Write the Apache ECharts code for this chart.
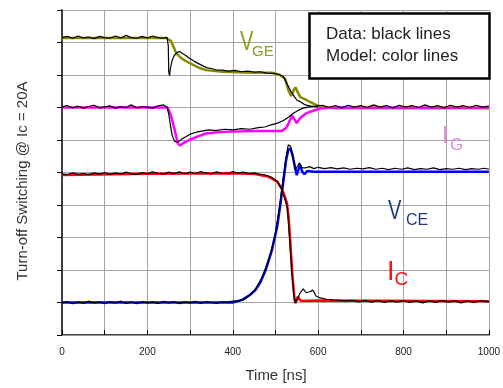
<!DOCTYPE html>
<html>
<head>
<meta charset="utf-8">
<script src="https://cdn.jsdelivr.net/npm/echarts@6/dist/echarts.min.js"></script>
<style>
  html, body { margin: 0; padding: 0; background: #fff; }
  #chart { width: 503px; height: 388px; }
</style>
</head>
<body>
<div id="chart"></div>
<script>
// time in ns, traces in grid units (0..10, one unit per grid row)
const xTicks = [0, 200, 400, 600, 800, 1000];

const vgeModel = [[0,9.14],[244,9.14],[255,9.05],[262,8.85],[267,8.68],[280,8.51],[298,8.37],[320,8.23],[337,8.15],[376,8.1],[430,8.08],[492,8.07],[510,8.0],[523,7.88],[530,7.54],[537,7.35],[543,7.54],[547,7.62],[552,7.48],[558,7.32],[570,7.25],[581,7.17],[595,7.08],[610,7.02],[640,6.98],[1000,6.98]];

const igModel = [[0,7.0],[248,7.0],[256,6.72],[264,6.31],[271,5.91],[276,5.83],[285,5.91],[298,6.0],[320,6.12],[337,6.2],[376,6.25],[453,6.28],[515,6.28],[525,6.37],[531,6.52],[539,6.75],[543,6.77],[550,6.52],[558,6.68],[570,6.8],[581,6.87],[605,6.97],[630,7.0],[1000,7.0]];

const vceModel = [[0,1.0],[400,1.0],[422,1.08],[440,1.23],[453,1.38],[465,1.63],[477,2.0],[492,2.62],[504,3.33],[512,4.06],[519,4.77],[525,5.38],[530,5.69],[535,5.74],[540,5.54],[547,5.08],[550,4.92],[555,5.14],[558,5.23],[563,5.02],[568,4.95],[575,5.05],[590,5.02],[1000,5.02]];

const icModel = [[0,4.92],[200,4.96],[400,4.98],[453,4.95],[484,4.87],[504,4.72],[515,4.5],[522,4.25],[527,4.06],[531,3.6],[535,2.83],[540,1.79],[545,1.08],[547,0.98],[550,1.1],[553,1.18],[557,1.08],[562,1.05],[600,1.06],[1000,1.04]];

const vgeData = [[0,9.15],[12,9.19],[25,9.13],[38,9.2],[50,9.14],[62,9.17],[75,9.12],[88,9.19],[100,9.15],[112,9.13],[125,9.2],[138,9.14],[150,9.22],[162,9.15],[175,9.13],[188,9.19],[200,9.14],[212,9.2],[225,9.15],[238,9.13],[246,9.16],[249,8.9],[250,8.1],[252,7.98],[254,8.2],[258,8.45],[263,8.6],[270,8.7],[276,8.72],[282,8.66],[290,8.6],[300,8.5],[310,8.42],[320,8.35],[330,8.28],[340,8.22],[350,8.2],[360,8.16],[375,8.15],[390,8.12],[405,8.14],[420,8.1],[435,8.12],[450,8.09],[465,8.1],[480,8.06],[495,8.05],[505,8.03],[512,8.0],[519,7.95],[525,7.78],[531,7.63],[536,7.5],[542,7.38],[550,7.23],[558,7.18],[570,7.08],[580,7.05],[590,7.03],[600,7.02]];

const igData = [[0,7.02],[12,7.06],[25,6.99],[38,7.04],[50,6.98],[62,7.03],[75,7.07],[88,6.99],[100,7.02],[112,7.05],[125,6.98],[138,7.03],[150,7.0],[162,7.08],[175,6.99],[188,7.03],[200,7.01],[212,6.98],[225,7.05],[238,7.08],[246,7.01],[250,6.8],[254,6.45],[258,6.15],[263,5.98],[268,5.93],[273,5.95],[280,6.02],[290,6.1],[300,6.18],[315,6.24],[330,6.28],[345,6.31],[360,6.29],[380,6.33],[400,6.31],[420,6.35],[440,6.33],[460,6.38],[475,6.4],[488,6.46],[505,6.52],[519,6.6],[530,6.7],[542,6.82],[555,6.92],[565,6.98],[580,7.02],[595,7.04],[610,7.07],[625,7.0],[640,7.06],[655,6.99],[670,7.07],[685,7.01],[700,7.06],[715,7.0],[730,7.08],[745,7.01],[760,7.06],[775,6.99],[790,7.07],[805,7.01],[820,7.06],[835,7.0],[850,7.08],[865,7.01],[880,7.06],[895,6.99],[910,7.07],[925,7.01],[940,7.06],[955,7.0],[970,7.07],[985,7.01],[1000,7.04]];

const vceData = [[0,0.99],[12,1.03],[25,0.96],[38,1.02],[50,0.98],[62,1.04],[75,0.99],[88,1.02],[100,0.96],[112,1.03],[125,0.99],[138,1.04],[150,0.97],[162,1.02],[175,0.96],[188,1.03],[200,0.99],[212,1.02],[225,0.97],[238,1.04],[250,0.99],[262,1.03],[275,0.96],[288,1.02],[300,0.99],[312,1.04],[325,0.97],[338,1.03],[350,1.0],[362,0.97],[375,1.03],[388,1.01],[400,1.04],[412,1.04],[425,1.08],[440,1.22],[455,1.45],[470,1.8],[485,2.35],[498,3.0],[508,3.8],[516,4.6],[524,5.4],[530,5.85],[536,5.8],[542,5.4],[547,5.1],[552,5.2],[556,5.3],[562,5.15],[570,5.14],[580,5.18],[590,5.12],[600,5.16],[615,5.12],[630,5.15],[645,5.11],[660,5.14],[675,5.1],[690,5.13],[705,5.11],[720,5.15],[735,5.1],[750,5.13],[765,5.09],[780,5.13],[795,5.1],[810,5.14],[825,5.09],[840,5.12],[855,5.1],[870,5.14],[885,5.09],[900,5.12],[915,5.1],[930,5.13],[945,5.09],[960,5.12],[975,5.1],[990,5.13],[1000,5.1]];

const icData = [[0,4.96],[12,4.93],[25,4.99],[38,4.94],[50,4.97],[62,4.93],[75,4.99],[88,4.95],[100,5.0],[112,4.94],[125,4.99],[138,4.95],[150,5.01],[162,4.96],[175,4.94],[188,5.0],[200,4.96],[212,5.02],[225,4.97],[238,4.95],[250,5.01],[262,4.97],[275,5.02],[288,4.96],[300,5.01],[312,4.97],[325,5.03],[338,4.98],[350,4.96],[362,5.02],[375,4.98],[388,4.97],[400,5.03],[412,4.98],[425,5.01],[438,4.97],[450,4.99],[462,4.95],[475,4.93],[490,4.86],[505,4.72],[515,4.48],[522,4.2],[528,3.9],[533,3.0],[538,2.0],[543,1.2],[547,1.0],[552,1.12],[558,1.3],[565,1.42],[572,1.3],[580,1.33],[588,1.38],[595,1.2],[605,1.14],[620,1.1],[635,1.08],[650,1.07],[665,1.04],[680,1.07],[695,1.02],[710,1.06],[725,1.01],[740,1.06],[755,1.0],[770,1.05],[785,1.01],[800,1.06],[815,1.0],[830,1.05],[845,0.99],[860,1.05],[875,1.0],[890,1.06],[905,1.01],[920,1.05],[935,0.99],[950,1.05],[965,1.0],[980,1.06],[1000,1.02]];

const font = '"Liberation Sans", Arial, sans-serif';

const chart = echarts.init(document.getElementById('chart'));

const line = (data, color, width) => ({
    type: 'line',
    data: data,
    showSymbol: false,
    symbol: 'none',
    silent: true,
    lineStyle: { color: color, width: width },
    z: width > 1.5 ? 2 : 3
});

const label = (text, x, y, size, color, sx) => ({
    type: 'text',
    x: x,
    y: y,
    scaleX: sx || 1,
    z: 10,
    style: { text: text, font: size + 'px ' + font, fill: color, align: 'left', verticalAlign: 'middle' }
});

const options = {
    animation: false,
    backgroundColor: '#fff',
    grid: { left: 62, right: 13, top: 10, bottom: 53 },
    xAxis: [{
        type: 'value',
        min: 0,
        max: 1000,
        interval: 100,
        axisLine: { lineStyle: { color: '#000', width: 1.5 } },
        axisTick: { inside: true, length: 5, lineStyle: { color: '#000' } },
        axisLabel: {
            fontFamily: font,
            fontSize: 10,
            color: '#222',
            margin: 12,
            formatter: (v) => xTicks.indexOf(v) >= 0 ? String(v) : ''
        },
        splitLine: { lineStyle: { color: '#a4a4a4', width: 1 } }
    }, {
        type: 'value',
        position: 'top',
        min: 0,
        max: 1000,
        axisLine: { lineStyle: { color: '#999', width: 1 } },
        axisTick: { show: false },
        axisLabel: { show: false },
        splitLine: { show: false }
    }],
    yAxis: [{
        type: 'value',
        min: 0,
        max: 10,
        interval: 1,
        axisLine: { show: true, lineStyle: { color: '#000', width: 1.5 } },
        axisTick: { show: true, length: 5, lineStyle: { color: '#000' } },
        axisLabel: { show: false },
        splitLine: { lineStyle: { color: '#a4a4a4', width: 1 } }
    }, {
        type: 'value',
        position: 'right',
        min: 0,
        max: 10,
        interval: 1,
        axisLine: { show: true, lineStyle: { color: '#444', width: 1.5 } },
        axisTick: { show: true, inside: true, length: 4, lineStyle: { color: '#000' } },
        axisLabel: { show: false },
        splitLine: { show: false }
    }],
    series: [
        line(vgeModel, '#8a8a00', 2.5),
        line(igModel, '#ff00ff', 2.5),
        line(vceModel, '#0000ff', 2.5),
        line(icModel, '#ff0000', 2.5),
        line(vgeData, '#000', 1.2),
        line(igData, '#000', 1.2),
        line(vceData, '#000', 1.2),
        line(icData, '#000', 1.2)
    ],
    graphic: [
        {
            type: 'rect',
            z: 10,
            shape: { x: 309.5, y: 13.5, width: 180, height: 65 },
            style: { fill: '#fff', stroke: '#000', lineWidth: 2.5 }
        },
        label('Data: black lines', 326, 34.5, 17, '#222'),
        label('Model: color lines', 326, 56.5, 17, '#222'),
        label('V', 240, 42.5, 28, '#8c9c1c', 0.72),
        label('GE', 252, 52, 15, '#8c9c1c'),
        label('I', 442, 136.5, 23, '#e08ce0'),
        label('G', 450, 145, 17, '#e08ce0'),
        label('V', 388, 211.7, 28, '#1f3a80', 0.72),
        label('CE', 406, 221, 16, '#1f3a80'),
        label('I', 387, 273, 27, '#ff1010'),
        label('C', 394.5, 280, 19, '#ff1010'),
        {
            type: 'text',
            x: 276,
            y: 376,
            style: { text: 'Time [ns]', font: '15px ' + font, fill: '#333', align: 'center', verticalAlign: 'middle' }
        },
        {
            type: 'text',
            x: 22.5,
            y: 181,
            rotation: Math.PI / 2,
            style: { text: 'Turn-off Switching @ Ic = 20A', font: '15px ' + font, fill: '#333', align: 'center', verticalAlign: 'middle' }
        }
    ]
};

chart.setOption(options);
</script>
</body>
</html>
